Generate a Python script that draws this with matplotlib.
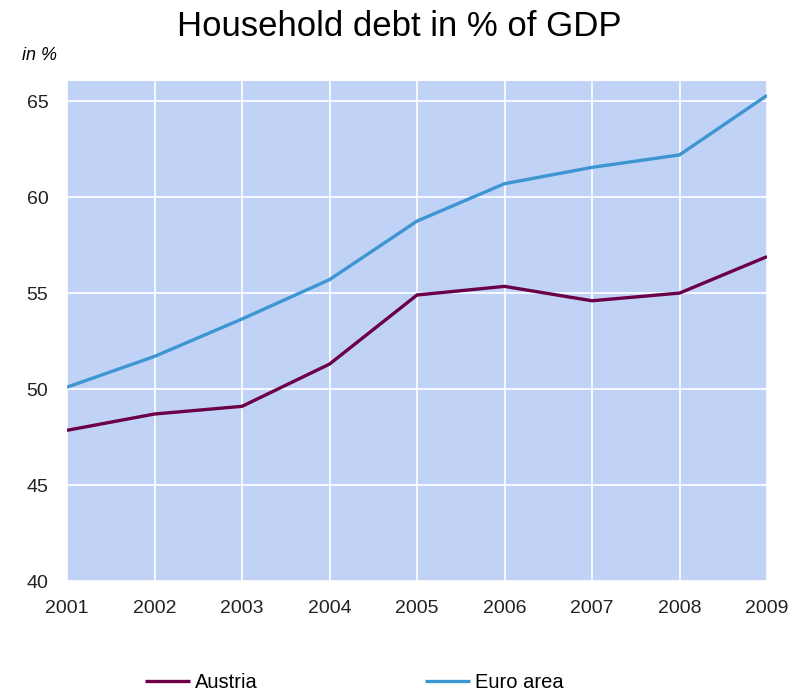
import matplotlib.pyplot as plt

plt.rcParams['font.family'] = ['Liberation Sans', 'DejaVu Sans']

years = [2001, 2002, 2003, 2004, 2005, 2006, 2007, 2008, 2009]
austria = [47.85, 48.7, 49.1, 51.3, 54.9, 55.35, 54.6, 55.0, 56.9]
euro_area = [50.1, 51.7, 53.65, 55.7, 58.75, 60.7, 61.55, 62.2, 65.3]
y_ticks = [40, 45, 50, 55, 60, 65]

fig = plt.figure(figsize=(7.98, 6.96), dpi=100)
ax = fig.add_axes([67 / 798, 1 - 581 / 696, 700 / 798, 500 / 696])
ax.set_facecolor('#c0d3f7')

ax.plot(years, austria, color='#6b0047', lw=2.4, label='Austria', solid_capstyle='butt')
ax.plot(years, euro_area, color='#3d95d2', lw=2.4, label='Euro area', solid_capstyle='butt')

ax.set_xlim(2001, 2009)
ax.set_ylim(40, 66.05)
ax.set_xticks(years)
ax.set_yticks(y_ticks)
ax.grid(True, color='white', lw=1.2)
ax.set_axisbelow(True)
for s in ax.spines.values():
    s.set_visible(False)
ax.tick_params(length=0, labelsize=14, colors='#222222', pad=13.5)
ax.tick_params(axis='x', pad=14)

fig.text(0.5, 1 - 26 / 696, 'Household debt in % of GDP', ha='center', va='center', fontsize=25)
fig.text(22 / 798, 1 - 56 / 696, 'in %', ha='left', va='center', fontsize=13, style='italic')

# legend sits at the very bottom edge
fig.legend(loc='center left', bbox_to_anchor=(145 / 798, 1 - 683 / 696), ncol=2,
           frameon=False, fontsize=14.5, handlelength=2.24, handletextpad=0.25,
           columnspacing=8.3, borderpad=0, borderaxespad=0)

fig.savefig('out.png', dpi=100)
